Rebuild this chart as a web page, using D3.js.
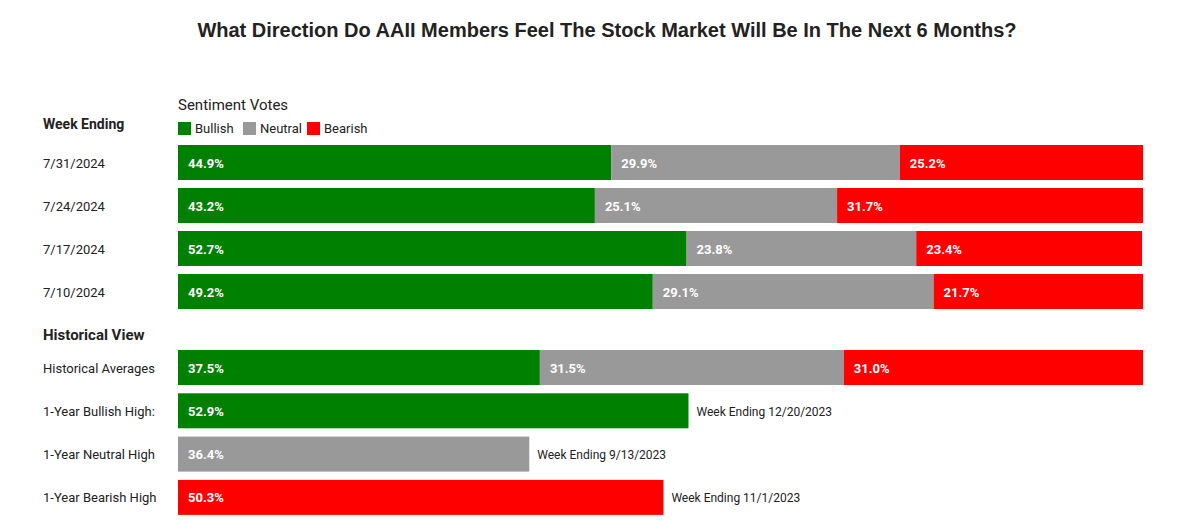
<!DOCTYPE html>
<html>
<head>
<meta charset="utf-8">
<script src="https://d3js.org/d3.v7.min.js"></script>
<style>
body { margin: 0; background: #fff; }
text { font-family: Roboto, "Noto Sans", sans-serif; }
</style>
</head>
<body>
<script>
var weeks = ["7/31/2024", "7/24/2024", "7/17/2024", "7/10/2024"];
var bullish = [44.9, 43.2, 52.7, 49.2];
var neutral = [29.9, 25.1, 23.8, 29.1];
var bearish = [25.2, 31.7, 23.4, 21.7];

var histLabels = ["Historical Averages", "1-Year Bullish High:", "1-Year Neutral High", "1-Year Bearish High"];
var histBullish = [37.5, 52.9, 0, 0];
var histNeutral = [31.5, 0, 36.4, 0];
var histBearish = [31.0, 0, 0, 50.3];
var histNotes = ["", "Week Ending 12/20/2023", "Week Ending 9/13/2023", "Week Ending 11/1/2023"];

var colors = { bull: "#008000", neut: "#999999", bear: "#ff0000" };

var svg = d3.select("body").append("svg").attr("width", 1200).attr("height", 528);

svg.append("text").attr("x", 607).attr("y", 37).attr("text-anchor", "middle")
  .style("font-family", "'Liberation Sans', Arial, sans-serif")
  .style("font-weight", "bold").style("font-size", "20px").attr("fill", "#222")
  .text("What Direction Do AAII Members Feel The Stock Market Will Be In The Next 6 Months?");

var x = d3.scaleLinear().domain([0, 100]).range([178, 1143]);

var rows = [];
weeks.forEach(function (w, i) { rows.push({ label: w, b: bullish[i], n: neutral[i], r: bearish[i], note: "", y: 145 + i * 43 }); });
histLabels.forEach(function (w, i) { rows.push({ label: w, b: histBullish[i], n: histNeutral[i], r: histBearish[i], note: histNotes[i], y: 350 + i * 43.3 }); });

svg.append("text").attr("x", 178).attr("y", 110).style("font-size", "15px").attr("fill", "#222").text("Sentiment Votes");
svg.append("text").attr("x", 43).attr("y", 129).style("font-size", "14px").style("font-weight", "bold").attr("fill", "#222").text("Week Ending");
svg.append("text").attr("x", 43).attr("y", 340).style("font-size", "15px").style("font-weight", "bold").attr("fill", "#222").text("Historical View");

var legend = [["Bullish", colors.bull, 178], ["Neutral", colors.neut, 243], ["Bearish", colors.bear, 307]];
legend.forEach(function (l) {
  svg.append("rect").attr("x", l[2]).attr("y", 122).attr("width", 13).attr("height", 13).attr("fill", l[1]);
  svg.append("text").attr("x", l[2] + 17).attr("y", 133).style("font-size", "13px").attr("fill", "#222").text(l[0]);
});

var h = 35;
rows.forEach(function (d) {
  var g = svg.append("g");
  g.append("text").attr("x", 43).attr("y", d.y + h / 2 + 5).style("font-size", "13px").attr("fill", "#222").text(d.label);
  var segs = [[d.b, colors.bull], [d.n, colors.neut], [d.r, colors.bear]];
  var start = 0;
  segs.forEach(function (s) {
    if (s[0] <= 0) return;
    g.append("rect").attr("x", x(start)).attr("y", d.y).attr("width", x(start + s[0]) - x(start)).attr("height", h).attr("fill", s[1]);
    g.append("text").attr("x", x(start) + 10).attr("y", d.y + h / 2 + 5).style("font-size", "13px").style("font-weight", "bold")
      .attr("fill", "#fff").text(s[0].toFixed(1) + "%");
    start += s[0];
  });
  if (d.note) {
    g.append("text").attr("x", x(start) + 8).attr("y", d.y + h / 2 + 5).style("font-size", "12px").attr("fill", "#222").text(d.note);
  }
});
</script>
</body>
</html>
